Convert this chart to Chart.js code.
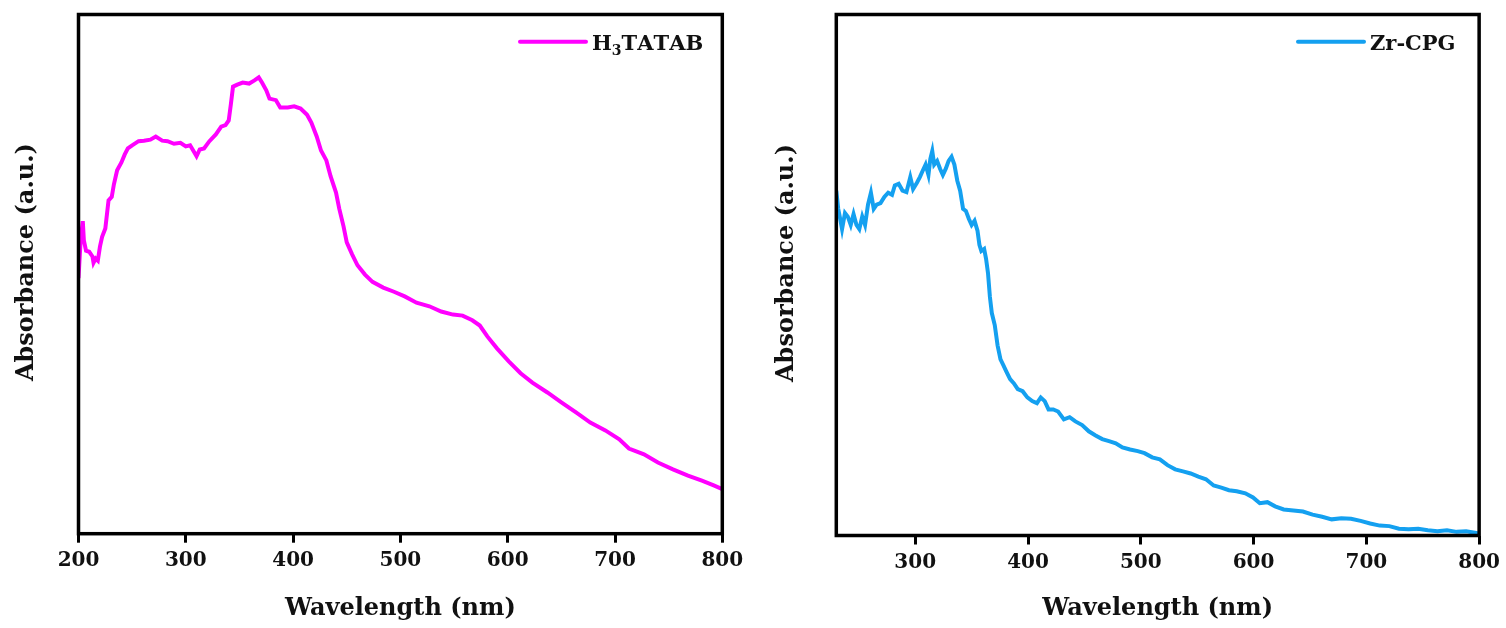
<!DOCTYPE html>
<html lang="en">
<head>
  <meta charset="UTF-8">
  <title>UV-Vis Absorbance</title>
  <script src="https://cdn.jsdelivr.net/npm/chart.js"></script>
  <style>
    body { margin: 0; background: #fff; }
    .panel { position: absolute; top: 0; width: 753px; height: 628px; }
    #leftPanel { left: 0; }
    #rightPanel { left: 753px; }
  </style>
</head>
<body>
<div class="panel" id="leftPanel"><canvas id="ligandChart" width="753" height="628"></canvas></div>
<div class="panel" id="rightPanel"><canvas id="mofChart" width="753" height="628"></canvas></div>
<script>
// H3TATAB ligand spectrum
const ligandWavelength = [
  200, 202, 204, 205, 207, 210, 213, 214, 216, 218,
  220, 222, 225, 228, 231, 233, 236, 240, 243, 246,
  250, 256, 261, 267, 272, 278, 283, 289, 295, 300,
  304, 308, 310, 313, 317, 322, 328, 333, 337, 340,
  342, 344, 348, 353, 359, 364, 368, 371, 375, 378,
  384, 388, 395, 401, 407, 413, 417, 422, 426, 431,
  435, 440, 443, 447, 450, 455, 460, 467, 474, 484,
  494, 504, 515, 527, 538, 549, 558, 567, 574, 581,
  590, 601, 612, 623, 637, 650, 664, 677, 691, 704,
  713, 727, 740, 754, 768, 781, 792, 800
];
const ligandAbsorbance = [
  0.492, 0.565, 0.602, 0.565, 0.545, 0.543, 0.534, 0.522, 0.530, 0.526,
  0.553, 0.572, 0.588, 0.642, 0.649, 0.673, 0.700, 0.715, 0.730, 0.742,
  0.748, 0.756, 0.757, 0.759, 0.765, 0.757, 0.756, 0.751, 0.753, 0.746,
  0.748, 0.734, 0.727, 0.740, 0.742, 0.756, 0.769, 0.784, 0.787, 0.796,
  0.827, 0.861, 0.865, 0.869, 0.867, 0.873, 0.879, 0.869, 0.854, 0.838,
  0.835, 0.821, 0.821, 0.823, 0.819, 0.807, 0.792, 0.765, 0.738, 0.719,
  0.688, 0.657, 0.626, 0.592, 0.561, 0.538, 0.517, 0.499, 0.485, 0.474,
  0.466, 0.457, 0.445, 0.438, 0.428, 0.422, 0.420, 0.411, 0.401, 0.380,
  0.357, 0.332, 0.309, 0.291, 0.272, 0.253, 0.233, 0.214, 0.199, 0.182,
  0.164, 0.153, 0.137, 0.124, 0.112, 0.102, 0.093, 0.086
];

// Zr-CPG framework spectrum
const mofWavelength = [
  230, 231.7, 233.4, 235.1, 237.7, 240.2, 242.8, 245.3, 247.9, 250.4,
  253.0, 255.5, 258.1, 260.7, 263.2, 265.8, 269.2, 272.6, 276.0, 279.4,
  281.9, 285.3, 288.7, 292.2, 295.6, 298.1, 301.5, 304.1, 306.6, 309.2,
  311.7, 313.4, 315.1, 316.8, 319.4, 322.0, 324.5, 327.1, 329.6, 332.2,
  334.7, 337.3, 339.8, 342.4, 344.9, 347.5, 350.0, 352.6, 355.2, 356.9,
  358.6, 361.1, 362.8, 364.5, 366.2, 367.9, 370.5, 373.0, 375.6, 378.1,
  380.7, 384.1, 387.5, 390.9, 395.2, 399.4, 403.7, 407.9, 411.3, 414.8,
  418.2, 422.4, 426.7, 431.8, 436.9, 442.0, 448.0, 453.9, 459.9, 465.8,
  471.8, 477.8, 483.7, 490.5, 497.3, 503.3, 510.1, 516.9, 523.7, 530.5,
  537.4, 544.2, 551.0, 557.8, 564.6, 571.4, 578.2, 585.0, 592.7, 599.5,
  605.5, 612.3, 619.1, 626.7, 635.3, 643.8, 652.3, 660.8, 669.3, 677.8,
  686.4, 694.9, 703.4, 711.9, 720.4, 728.9, 737.4, 746.0, 754.5, 763.0,
  771.5, 780.0, 788.5, 800
];
const mofAbsorbance = [
  0.662, 0.627, 0.608, 0.588, 0.619, 0.612, 0.596, 0.617, 0.596, 0.588,
  0.612, 0.596, 0.635, 0.658, 0.627, 0.635, 0.638, 0.650, 0.658, 0.654,
  0.672, 0.675, 0.662, 0.659, 0.688, 0.665, 0.677, 0.688, 0.700, 0.712,
  0.692, 0.723, 0.738, 0.712, 0.719, 0.704, 0.692, 0.704, 0.719, 0.727,
  0.712, 0.681, 0.662, 0.627, 0.623, 0.608, 0.596, 0.604, 0.585, 0.558,
  0.546, 0.550, 0.531, 0.504, 0.458, 0.427, 0.404, 0.365, 0.338, 0.327,
  0.315, 0.300, 0.292, 0.281, 0.277, 0.265, 0.258, 0.254, 0.265, 0.258,
  0.242, 0.242, 0.238, 0.223, 0.227, 0.219, 0.212, 0.200, 0.192, 0.185,
  0.181, 0.177, 0.169, 0.165, 0.162, 0.158, 0.150, 0.146, 0.135, 0.127,
  0.123, 0.119, 0.113, 0.108, 0.096, 0.092, 0.087, 0.085, 0.081, 0.073,
  0.062, 0.064, 0.056, 0.050, 0.048, 0.046, 0.040, 0.036, 0.031, 0.033,
  0.032, 0.028, 0.023, 0.019, 0.018, 0.013, 0.012, 0.013, 0.010, 0.008,
  0.010, 0.007, 0.008, 0.004
];

const ligandTicks = [200, 300, 400, 500, 600, 700, 800];
const mofTicks = [300, 400, 500, 600, 700, 800];

const FONT = "'DejaVu Serif', serif";
const SUBS = '₀₁₂₃₄₅₆₇₈₉';

// black box around the plot area
const frame = {
  id: 'frame',
  afterDatasetsDraw(chart) {
    const a = chart.chartArea, ctx = chart.ctx;
    ctx.save();
    ctx.strokeStyle = '#000';
    ctx.lineWidth = 3.5;
    ctx.strokeRect(a.left, a.top, a.right - a.left, a.bottom - a.top);
    ctx.restore();
  }
};

// rotated y title, sitting a little above the middle of the plot
const yTitle = {
  id: 'yTitle',
  afterDraw(chart, args, opts) {
    const a = chart.chartArea, ctx = chart.ctx;
    ctx.save();
    ctx.translate(opts.x, (a.top + a.bottom) / 2 - 12);
    ctx.rotate(-Math.PI / 2);
    ctx.font = 'bold 24px ' + FONT;
    ctx.fillStyle = '#111';
    ctx.textAlign = 'center';
    ctx.textBaseline = 'middle';
    ctx.fillText(opts.text, 0, 0);
    ctx.restore();
  }
};

// legend entry: short line + label, subscript digits drawn small and low
const lineKey = {
  id: 'lineKey',
  afterDraw(chart, args, opts) {
    const ds = chart.data.datasets[0], ctx = chart.ctx;
    const x = chart.chartArea.left + opts.x, y = opts.y;
    ctx.save();
    ctx.strokeStyle = ds.borderColor;
    ctx.lineWidth = 4;
    ctx.lineCap = 'round';
    ctx.beginPath();
    ctx.moveTo(x, y);
    ctx.lineTo(x + 66, y);
    ctx.stroke();
    ctx.fillStyle = '#111';
    ctx.textBaseline = 'alphabetic';
    let tx = x + 72;
    for (const ch of ds.label) {
      const s = SUBS.indexOf(ch);
      if (s >= 0) {
        ctx.font = 'bold 14px ' + FONT;
        ctx.fillText(String(s), tx, y + 13);
        tx += ctx.measureText(String(s)).width;
      } else {
        ctx.font = 'bold 21px ' + FONT;
        ctx.fillText(ch, tx, y + 8);
        tx += ctx.measureText(ch).width;
      }
    }
    ctx.restore();
  }
};

function makeChart(id, xs, ys, color, label, xMin, ticks, box) {
  return new Chart(document.getElementById(id), {
    type: 'line',
    data: {
      datasets: [{
        label: label,
        data: xs.map((x, i) => ({ x: x, y: ys[i] })),
        borderColor: color,
        borderWidth: 4,
        pointRadius: 0,
        tension: 0,
        fill: false
      }]
    },
    options: {
      responsive: false,
      animation: false,
      layout: { padding: { top: box.top, right: box.right, left: 0, bottom: 0 } },
      plugins: {
        legend: { display: false },
        tooltip: { enabled: false },
        lineKey: { x: box.keyX, y: 41.7 },
        yTitle: { x: box.yTitleX, text: 'Absorbance (a.u.)' }
      },
      scales: {
        x: {
          type: 'linear',
          min: xMin,
          max: 800,
          afterBuildTicks: s => { s.ticks = ticks.map(v => ({ value: v })); },
          afterFit: s => { s.height = box.xHeight; },
          border: { display: false },
          grid: { display: true, drawOnChartArea: false, drawTicks: true, tickLength: 9, tickWidth: 3, tickColor: '#000' },
          ticks: { color: '#111', padding: 6, maxRotation: 0, font: { family: FONT, weight: 'bold', size: 20 } },
          title: {
            display: true,
            text: 'Wavelength (nm)',
            color: '#111',
            padding: { top: 0, bottom: 5 },
            font: { family: FONT, weight: 'bold', size: 24 }
          }
        },
        y: {
          min: 0,
          max: 1,
          afterFit: s => { s.width = box.left; },
          border: { display: false },
          grid: { display: false },
          ticks: { display: false }
        }
      }
    },
    plugins: [frame, lineKey, yTitle]
  });
}

makeChart('ligandChart', ligandWavelength, ligandAbsorbance, '#FF00FF', 'H₃TATAB', 200, ligandTicks,
  { left: 78.5, right: 30.7, top: 14.5, xHeight: 94.3, yTitleX: 27, keyX: 441.5 });
makeChart('mofChart', mofWavelength, mofAbsorbance, '#14A0F0', 'Zr-CPG', 230, mofTicks,
  { left: 83.3, right: 25.7, top: 14.5, xHeight: 92.5, yTitleX: 34, keyX: 461.7 });
</script>
</body>
</html>
